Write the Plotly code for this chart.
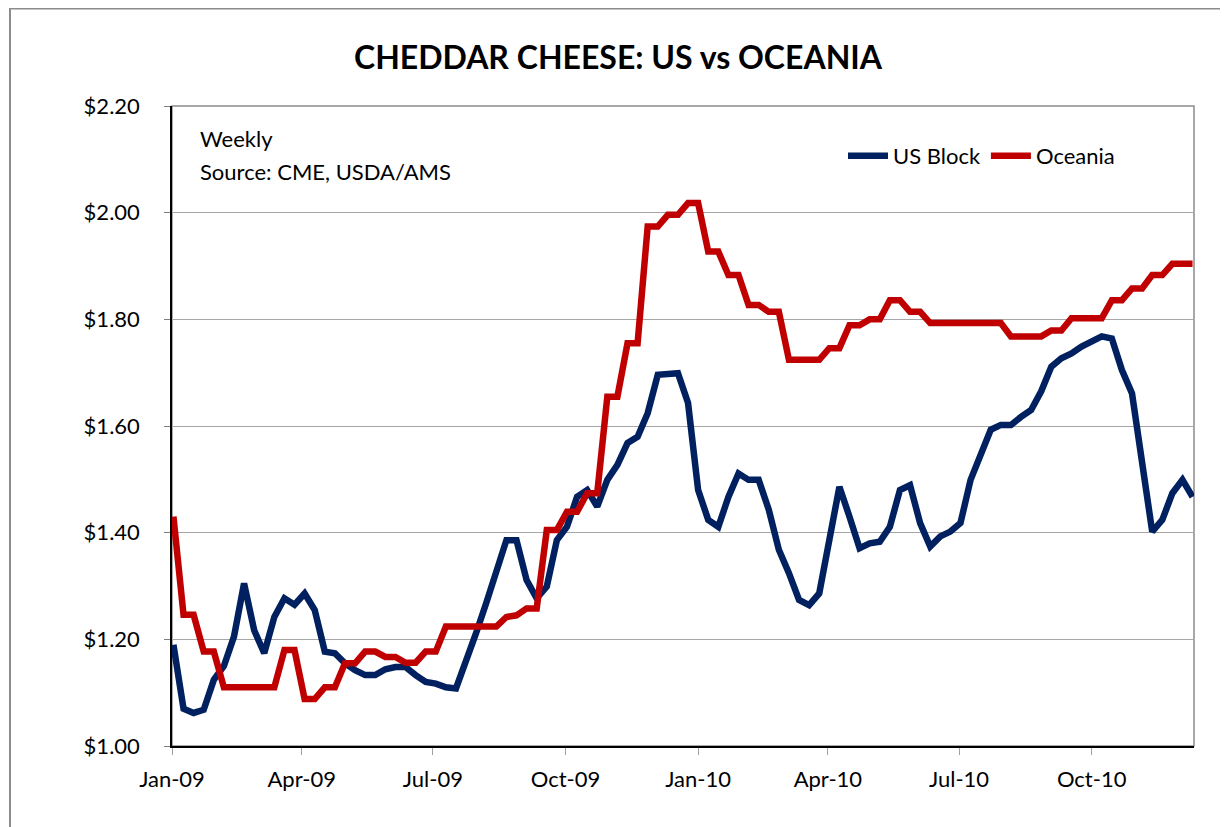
import plotly.graph_objects as go
import pandas as pd

start_date = "2009-01-02"
n_weeks = 102

us_block = [1.19, 1.07, 1.062, 1.068, 1.124, 1.15, 1.205, 1.305, 1.217, 1.174,
            1.242, 1.277, 1.265, 1.286, 1.255, 1.177, 1.174, 1.155, 1.142, 1.133,
            1.133, 1.144, 1.148, 1.148, 1.133, 1.12, 1.117, 1.11, 1.108, 1.158,
            1.212, 1.268, 1.324, 1.386, 1.386, 1.311, 1.277, 1.299, 1.386, 1.411,
            1.467, 1.48, 1.449, 1.499, 1.527, 1.568, 1.58, 1.624, 1.696, 1.699,
            1.699, 1.643, 1.48, 1.424, 1.411, 1.467, 1.511, 1.499, 1.499, 1.443,
            1.368, 1.324, 1.274, 1.264, 1.286, 1.386, 1.486, 1.43, 1.371, 1.38,
            1.383, 1.411, 1.48, 1.489, 1.418, 1.374, 1.393, 1.402, 1.418, 1.499,
            1.549, 1.593, 1.602, 1.602, 1.617, 1.63, 1.665, 1.711, 1.727, 1.736,
            1.749, 1.758, 1.768, 1.764, 1.705, 1.661, 1.535, 1.402, 1.424, 1.474,
            1.499, 1.467]

oceania = [1.43, 1.246, 1.246, 1.177, 1.177, 1.11, 1.11, 1.11, 1.11, 1.11,
           1.11, 1.18, 1.18, 1.088, 1.088, 1.11, 1.11, 1.155, 1.155, 1.177,
           1.177, 1.167, 1.167, 1.156, 1.156, 1.177, 1.177, 1.224, 1.224, 1.224,
           1.224, 1.224, 1.224, 1.242, 1.245, 1.258, 1.258, 1.405, 1.405, 1.439,
           1.439, 1.474, 1.474, 1.655, 1.655, 1.755, 1.755, 1.974, 1.974, 1.996,
           1.996, 2.018, 2.018, 1.927, 1.927, 1.883, 1.883, 1.827, 1.827, 1.814,
           1.814, 1.724, 1.724, 1.724, 1.724, 1.746, 1.746, 1.789, 1.789, 1.80,
           1.80, 1.836, 1.836, 1.814, 1.814, 1.793, 1.793, 1.793, 1.793, 1.793,
           1.793, 1.793, 1.793, 1.768, 1.768, 1.768, 1.768, 1.779, 1.779, 1.802,
           1.802, 1.802, 1.802, 1.836, 1.836, 1.858, 1.858, 1.883, 1.883, 1.904,
           1.904, 1.904]

dates = pd.date_range(start=start_date, periods=n_weeks, freq="7D")

FONT = "Lato"
FS = 22

# page body has an 8px margin; figure is sized so the plot lands where the reference has it
W, H = 1220, 819
ML, MR, MT, MB = 164, 34, 98, 81
PW, PH = W - ML - MR, H - MT - MB


def px(xf):
    return (xf - ML) / PW


def py(yf):
    return (H - MB - yf) / PH


fig = go.Figure()
fig.add_trace(go.Scatter(x=dates, y=us_block, mode="lines", name="US Block",
                         line=dict(color="#002060", width=6.5)))
fig.add_trace(go.Scatter(x=dates, y=oceania, mode="lines", name="Oceania",
                         line=dict(color="#C00000", width=6.5)))

fig.update_layout(
    width=W, height=H,
    margin=dict(l=ML, r=MR, t=MT, b=MB),
    paper_bgcolor="white", plot_bgcolor="white",
    font=dict(family=FONT, size=FS, color="black"),
    title=dict(text="<b>CHEDDAR CHEESE: US vs OCEANIA</b>", x=0.5, xref="container",
               xanchor="center", y=1 - 50 / H, yref="container", yanchor="middle",
               font=dict(family=FONT, size=32, color="black")),
    showlegend=True,
    legend=dict(orientation="h", x=px(835), y=py(148), xanchor="left", yanchor="middle",
                bgcolor="rgba(0,0,0,0)", font=dict(family=FONT, size=FS),
                itemwidth=40, tracegroupgap=0),
    xaxis=dict(type="date", range=["2009-01-01", "2010-12-11"],
               tick0="2009-01-01", dtick="M3", tickformat="%b-%y",
               showgrid=False, showline=True, linecolor="black", linewidth=1.5,
               ticks="outside", ticklen=7, tickcolor="#A0A0A0", ticklabelstandoff=6,
               tickfont=dict(family=FONT, size=FS), zeroline=False),
    yaxis=dict(range=[1.0, 2.2], dtick=0.2, tick0=1.0, tickprefix="$", tickformat=".2f",
               showgrid=True, gridcolor="#A6A6A6", gridwidth=1,
               showline=True, linecolor="black", linewidth=1.5,
               ticks="outside", ticklen=6, tickcolor="#808080", ticklabelstandoff=20,
               tickfont=dict(family=FONT, size=FS), zeroline=False),
    shapes=[
        dict(type="rect", xref="paper", yref="paper", x0=0, x1=1, y0=0, y1=1,
             line=dict(color="#8C8C8C", width=1.5), fillcolor="rgba(0,0,0,0)", layer="below"),
        dict(type="rect", xref="paper", yref="paper", x0=px(2), x1=px(W + 20),
             y0=py(H + 20), y1=py(0.5),
             line=dict(color="#8C8C8C", width=2), fillcolor="rgba(0,0,0,0)"),
    ],
    annotations=[
        dict(text="Weekly", xref="paper", yref="paper", x=px(190),
             y=py(130), xanchor="left", yanchor="middle", showarrow=False,
             font=dict(family=FONT, size=FS)),
        dict(text="Source: CME, USDA/AMS", xref="paper", yref="paper", x=px(190),
             y=py(163), xanchor="left", yanchor="middle", showarrow=False,
             font=dict(family=FONT, size=FS)),
    ],
)

fig.write_html("out.html")
